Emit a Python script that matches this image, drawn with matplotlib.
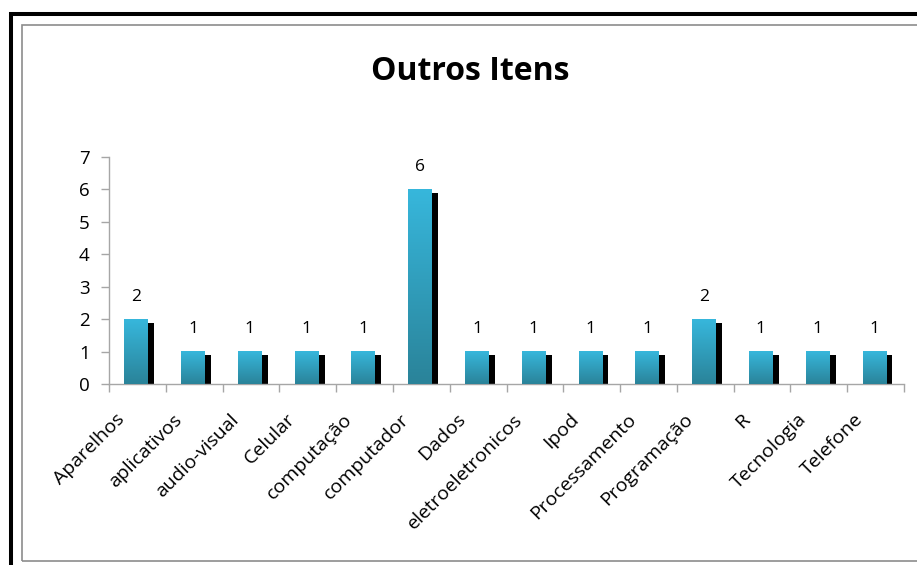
import numpy as np
import matplotlib
matplotlib.use("Agg")
import matplotlib.pyplot as plt
import matplotlib.transforms as mtransforms
from matplotlib.patches import Rectangle
from matplotlib.colors import LinearSegmentedColormap

categories = ["Aparelhos", "aplicativos", "audio-visual", "Celular", "computação",
              "computador", "Dados", "eletroeletronicos", "Ipod", "Processamento",
              "Programação", "R", "Tecnologia", "Telefone"]
counts = [2, 1, 1, 1, 1, 6, 1, 1, 1, 1, 2, 1, 1, 1]
y_ticks = [0, 1, 2, 3, 4, 5, 6, 7]
title = "Outros Itens"

FONT = ["Open Sans", "DejaVu Sans"]
AXIS_GREY = "#a6a6a6"
W, H = 917, 565

plt.rcParams["font.family"] = FONT

fig = plt.figure(figsize=(W / 100, H / 100), dpi=100)
fig.patch.set_facecolor("white")

# frame: thick black outline and thin grey chart border
fig.patches.append(Rectangle((11.3 / W, -0.2), 1.2, (H - 14.3) / H + 0.2,
                             transform=fig.transFigure, fill=False,
                             edgecolor="black", linewidth=2.9, zorder=0))
fig.patches.append(Rectangle((22 / W, 1 - 561 / H), 1.2, (561 - 24.5) / H,
                             transform=fig.transFigure, fill=False,
                             edgecolor="#8c8c8c", linewidth=1.2, zorder=0))

x0, x1, ytop, ybot = 109, 904, 157, 384
ax = fig.add_axes([x0 / W, 1 - ybot / H, (x1 - x0) / W, (ybot - ytop) / H])
ax.set_facecolor("none")

x = np.arange(len(categories))
bar_w = 0.42
shift = -0.02
shadow_dx, shadow_dy = 0.105, 0.11

cmap = LinearSegmentedColormap.from_list("bar", ["#2a8399", "#37b7dc"])
grad = np.linspace(0, 1, 256).reshape(-1, 1)

for xi, v in zip(x, counts):
    left = xi + shift - bar_w / 2
    # drop shadow
    ax.bar(left + shadow_dx, v - shadow_dy, width=bar_w, bottom=0, align="edge",
           color="black", zorder=2)
    ax.imshow(grad, extent=[left, left + bar_w, 0, v], origin="lower",
              cmap=cmap, aspect="auto", zorder=3, interpolation="bicubic")
    ax.annotate(str(v), (xi + shift, v), xytext=(0, 10.5), textcoords="offset points",
                ha="center", va="bottom", fontsize=12.5, color="black")

ax.set_xlim(-0.5, len(categories) - 0.5)
ax.set_ylim(0, 7)
ax.set_aspect("auto")

ax.set_yticks(y_ticks)
ax.tick_params(axis="y", direction="out", length=6, width=1, color=AXIS_GREY,
               labelsize=13.5, pad=8)

# boundary ticks between categories, labels at the centres
ax.set_xticks(np.arange(-0.5, len(categories)), labels=[])
ax.set_xticks(x, minor=True)
ax.set_xticklabels(categories, minor=True, rotation=45, ha="right", va="top",
                   fontsize=14)
ax.tick_params(axis="x", which="major", direction="out", length=6, width=1,
               color=AXIS_GREY)
ax.tick_params(axis="x", which="minor", length=0, pad=19)
offset = mtransforms.ScaledTranslation(-9 / 100, 0, fig.dpi_scale_trans)
for lbl in ax.get_xticklabels(minor=True):
    lbl.set_transform(lbl.get_transform() + offset)

for side in ("top", "right"):
    ax.spines[side].set_visible(False)
for side in ("left", "bottom"):
    ax.spines[side].set_color(AXIS_GREY)
    ax.spines[side].set_linewidth(1)

fig.text(470 / W, 1 - 79.5 / H, title, ha="center", va="baseline",
         fontsize=23, fontweight="bold")

fig.savefig("out.png", dpi=100)
